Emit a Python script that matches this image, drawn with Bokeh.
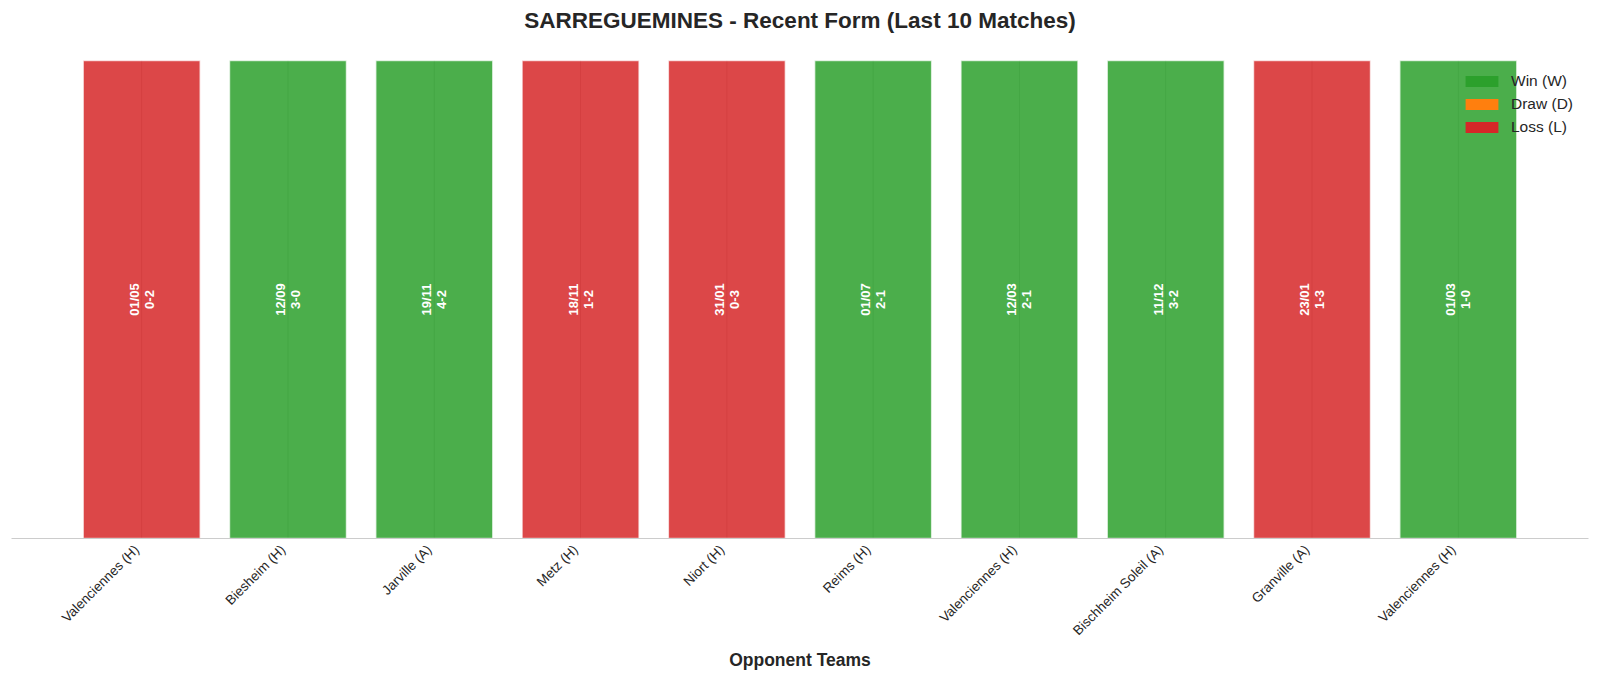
import math
from bokeh.plotting import figure, ColumnDataSource
from bokeh.models import Legend, LegendItem, FixedTicker, Range1d
from bokeh.core.properties import value
from bokeh.embed import file_html
from bokeh.resources import INLINE

# Match data (last 10 matches)
opponents = ["Valenciennes (H)", "Biesheim (H)", "Jarville (A)", "Metz (H)", "Niort (H)",
             "Reims (H)", "Valenciennes (H)", "Bischheim Soleil (A)", "Granville (A)", "Valenciennes (H)"]
dates = ["01/05", "12/09", "19/11", "18/11", "31/01", "01/07", "12/03", "11/12", "23/01", "01/03"]
scores = ["0-2", "3-0", "4-2", "1-2", "0-3", "2-1", "2-1", "3-2", "1-3", "1-0"]
results = ["L", "W", "W", "L", "L", "W", "W", "W", "L", "W"]

result_colors = {"W": "#2ca02c", "D": "#ff7f0e", "L": "#d62728"}
result_names = {"W": "Win (W)", "D": "Draw (D)", "L": "Loss (L)"}

xs = list(range(len(opponents)))
source = ColumnDataSource(data={
    'x': xs,
    'bottom': [0] * len(xs),
    'top': [1] * len(xs),
    'color': [result_colors[r] for r in results],
    'label': [d + "\n" + s for d, s in zip(dates, scores)],
    'mid': [0.5] * len(xs),
})

font = "Liberation Sans"

# frame: top at 36px, bottom at 538px; bars (height 1) should reach 60px
y_top = (538 - 36) / (538 - 60)

p = figure(width=1600, height=679, output_backend="svg", toolbar_location=None,
           x_range=Range1d(-0.89, len(xs) - 0.11), y_range=Range1d(0, y_top),
           title="SARREGUEMINES - Recent Form (Last 10 Matches)",
           min_border_left=11, min_border_right=12, min_border_top=36, min_border_bottom=141)

p.title.align = "center"
p.title.text_font = font
p.title.text_font_size = "22.5px"
p.title.text_font_style = "bold"
p.title.text_color = "#262626"
p.title.standoff = 7

p.outline_line_color = None
p.background_fill_color = "white"
p.border_fill_color = "white"

p.yaxis.visible = False
p.ygrid.grid_line_color = None
p.xgrid.grid_line_color = None

# tick labels sit a hair left of the bar centre, as in the original
label_shift = 0.034
label_pos = [x - label_shift for x in xs]
p.xaxis.ticker = FixedTicker(ticks=label_pos)
p.xaxis.major_label_overrides = {pos: name for pos, name in zip(label_pos, opponents)}
p.xaxis.major_label_orientation = math.pi / 4
p.xaxis.major_label_text_font = font
p.xaxis.major_label_text_font_size = "13.5px"
p.xaxis.major_label_text_color = "#262626"
p.xaxis.major_tick_line_color = None
p.xaxis.minor_tick_line_color = None
p.xaxis.axis_line_color = "#cccccc"
p.xaxis.axis_line_width = 1
p.xaxis.major_label_standoff = 3
p.xaxis.axis_label = "Opponent Teams"
p.xaxis.axis_label_text_font = font
p.xaxis.axis_label_text_font_size = "17.5px"
p.xaxis.axis_label_text_font_style = "bold"
p.xaxis.axis_label_text_color = "#262626"
p.xaxis.axis_label_standoff = 3

# vertical grid lines, only as tall as the bars
p.segment(x0='x', y0='bottom', x1='x', y1='top', source=source,
          line_color="#c8c8c8", line_width=1)

p.vbar(x='x', top='top', bottom='bottom', width=0.8, source=source,
       fill_color='color', fill_alpha=0.85, line_color="white", line_alpha=0.7, line_width=1.5)

p.text(x='x', y='mid', text='label', source=source, angle=math.pi / 2,
       text_align="center", text_baseline="middle", text_color="white",
       text_font=value(font), text_font_size="13px", text_font_style="bold",
       text_line_height=1.0)

# legend swatches in full colour (zero-height proxies)
items = []
for key in ["W", "D", "L"]:
    r = p.vbar(x=[xs[0]], top=[0], bottom=[0], width=0.5,
               fill_color=result_colors[key], line_color=None)
    items.append(LegendItem(label=result_names[key], renderers=[r]))

legend = Legend(items=items, location=(1450, 402))
legend.background_fill_alpha = 0
legend.border_line_color = None
legend.label_text_font = font
legend.label_text_font_size = "15.5px"
legend.label_text_color = "#262626"
legend.glyph_width = 41
legend.glyph_height = 14
legend.spacing = 4
legend.label_height = 19
legend.padding = 0
legend.margin = 0
legend.label_standoff = 9
p.add_layout(legend)

open("out.html", "w").write(file_html(p, INLINE))
